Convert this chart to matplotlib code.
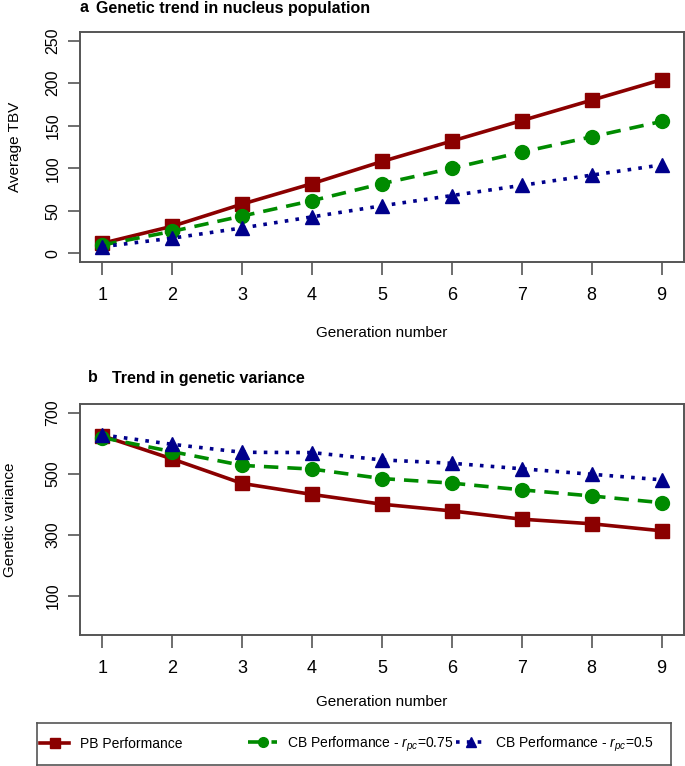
import numpy as np
import matplotlib.pyplot as plt
from matplotlib.lines import Line2D

# data
generations = [1, 2, 3, 4, 5, 6, 7, 8, 9]

tbv_pb = [12, 32, 58, 82, 108, 132, 156, 180, 204]
tbv_cb75 = [10, 26, 44, 62, 82, 100, 119, 137, 155]
tbv_cb50 = [8, 18, 30, 43, 56, 68, 80, 92, 104]

var_pb = [624, 548, 468, 432, 400, 378, 351, 336, 313]
var_cb75 = [618, 572, 527, 515, 484, 469, 447, 427, 405]
var_cb50 = [627, 596, 570, 569, 545, 534, 516, 498, 480]

labels = ['PB Performance',
          r'CB Performance - $r_{pc}$=0.75',
          r'CB Performance - $r_{pc}$=0.5']
colors = ['#8b0000', '#008b00', '#00008b']
markers = ['s', 'o', '^']
styles = ['-', (0, (4, 2.5)), (0, (1, 2))]

W, H = 685, 766
plt.rcParams['font.family'] = ['Liberation Sans', 'DejaVu Sans']
plt.rcParams['mathtext.fontset'] = 'custom'
plt.rcParams['mathtext.it'] = 'Liberation Sans:italic'
plt.rcParams['mathtext.rm'] = 'Liberation Sans'

fig = plt.figure(figsize=(W / 100, H / 100), dpi=100)


def box(l, t, r, b):
    return [l / W, 1 - b / H, (r - l) / W, (b - t) / H]


def draw(ax, series, ylim, yticks, xlab_y):
    for vals, c, m, ls in zip(series, colors, markers, styles):
        ax.plot(generations, vals, color=c, marker=m, linestyle=ls, lw=2.6,
                markersize=10, markeredgecolor=c)
    ax.set_xlim(0.68, 9.32)
    ax.set_ylim(*ylim)
    ax.set_xticks(generations)
    ax.set_yticks(yticks)
    ax.set_xticklabels([str(g) for g in generations], fontsize=13)
    ax.set_yticklabels([str(v) for v in yticks], rotation=90, va='center', fontsize=11.5)
    ax.tick_params(axis='x', length=9, width=1.2, color='#555555', pad=9)
    ax.tick_params(axis='y', length=9, width=1.2, color='#555555', pad=5)
    for s in ax.spines.values():
        s.set_color('#555555')
        s.set_linewidth(1.4)
    ax.set_xlabel('Generation number', fontsize=11)
    ax.xaxis.set_label_coords(0.5, xlab_y)


ax_a = fig.add_axes(box(80, 32, 684, 262))
draw(ax_a, [tbv_pb, tbv_cb75, tbv_cb50], (-10, 260), [0, 50, 100, 150, 200, 250], -0.28)
ax_a.set_ylabel('Average TBV', fontsize=11)
ax_a.yaxis.set_label_coords(-0.096, 0.5)

ax_b = fig.add_axes(box(80, 404, 684, 635))
draw(ax_b, [var_pb, var_cb75, var_cb50], (-28, 728), [100, 300, 500, 700], -0.26)
ax_b.set_ylabel('Genetic variance', fontsize=11)
ax_b.yaxis.set_label_coords(-0.105, 0.5)

fig.text(79 / W, 1 - 8 / H, 'a', fontweight='bold', fontsize=11.5, va='center')
fig.text(96 / W, 1 - 8 / H, 'Genetic trend in nucleus population', fontweight='bold',
         fontsize=11.5, va='center')
fig.text(88 / W, 1 - 378 / H, 'b', fontweight='bold', fontsize=11.5, va='center')
fig.text(112 / W, 1 - 378 / H, 'Trend in genetic variance', fontweight='bold',
         fontsize=11.5, va='center')

# legend box
ax_l = fig.add_axes(box(37, 723, 671, 765))
ax_l.set_xticks([])
ax_l.set_yticks([])
for s in ax_l.spines.values():
    s.set_color('#555555')
    s.set_linewidth(1.2)
ax_l.patch.set_alpha(0)

handles = [Line2D([], [], color=c, marker=m, linestyle=ls, lw=2.6, markersize=7)
           for c, m, ls in zip(colors, markers, styles)]
ymid = 1 - 744 / H
fig.legend(handles[:1], labels[:1], loc='center left', frameon=False,
           bbox_to_anchor=(40 / W, ymid), borderaxespad=0.0, borderpad=0.0,
           handlelength=2.1, handletextpad=0.8,
           prop={'size': 10})
fig.legend(handles[1:], labels[1:], loc='center left', frameon=False, ncol=2,
           bbox_to_anchor=(248 / W, ymid), borderaxespad=0.0, borderpad=0.0,
           handlelength=2.1, handletextpad=0.7, columnspacing=0.2,
           prop={'size': 10})

fig.savefig('out.png', dpi=100)
